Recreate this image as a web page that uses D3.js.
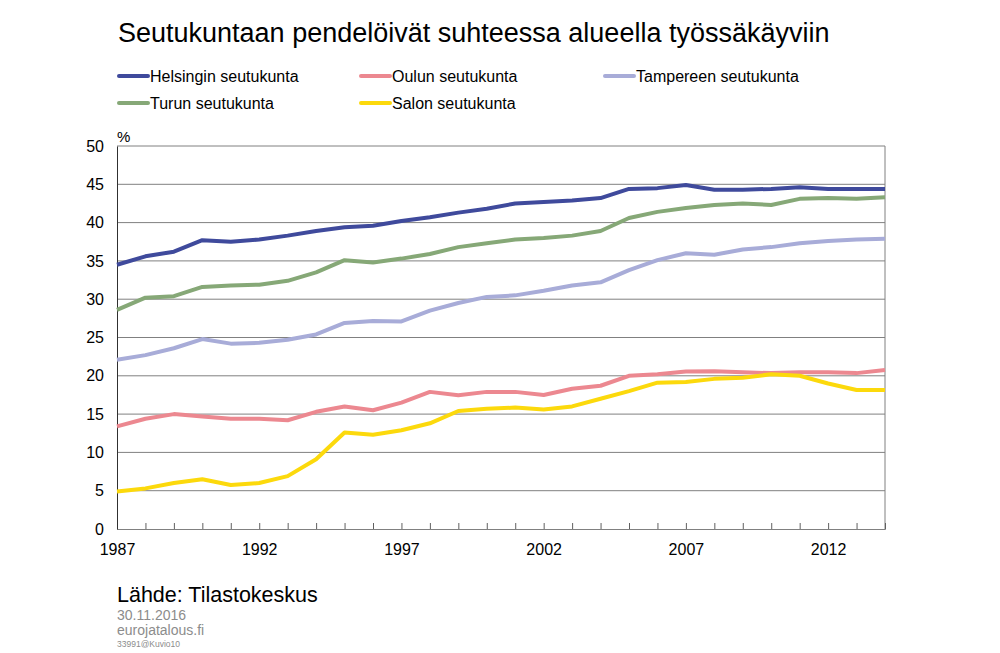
<!DOCTYPE html>
<html><head><meta charset="utf-8">
<script src="https://cdn.jsdelivr.net/npm/d3@7"></script>
<style>body{margin:0;background:#fff;} svg{display:block;font-family:"Liberation Sans",Arial,sans-serif;}</style>
</head><body><svg id="c" width="1000" height="653"></svg>
<script>
const years = d3.range(1987, 2015);
const helsinki = [34.5,35.6,36.2,37.7,37.5,37.8,38.3,38.9,39.4,39.6,40.2,40.7,41.3,41.8,42.5,42.7,42.9,43.2,44.4,44.5,44.9,44.3,44.3,44.4,44.6,44.4,44.4,44.4];
const oulu = [13.4,14.4,15.0,14.7,14.4,14.4,14.2,15.3,16.0,15.5,16.5,17.9,17.45,17.9,17.9,17.5,18.3,18.7,20.0,20.2,20.55,20.6,20.45,20.35,20.45,20.45,20.35,20.75];
const tampere = [22.1,22.7,23.6,24.8,24.2,24.3,24.7,25.4,26.9,27.15,27.1,28.5,29.5,30.3,30.5,31.1,31.8,32.2,33.8,35.1,36.0,35.8,36.5,36.8,37.3,37.6,37.8,37.9];
const turku = [28.6,30.2,30.4,31.6,31.8,31.9,32.4,33.5,35.1,34.8,35.3,35.9,36.8,37.3,37.8,38.0,38.3,38.9,40.6,41.4,41.9,42.3,42.5,42.3,43.1,43.2,43.1,43.3];
const salo = [4.9,5.3,6.0,6.5,5.75,6.0,6.9,9.1,12.6,12.3,12.9,13.8,15.4,15.7,15.85,15.6,16.0,17.0,18.0,19.1,19.2,19.6,19.75,20.2,20.0,19.0,18.15,18.15];
const seriesNames = ["Helsingin seutukunta","Oulun seutukunta","Tampereen seutukunta","Turun seutukunta","Salon seutukunta"];
const seriesValues = [helsinki, oulu, tampere, turku, salo];
const colors = ["#3f4a9c","#ec8890","#a8acd8","#86a877","#fcd90c"];
const yTicks = [0,5,10,15,20,25,30,35,40,45,50];
const xLabelYears = [1987,1992,1997,2002,2007,2012];

const svg = d3.select("#c");
const L=117, R=885, T=146, B=529;
const x = d3.scaleLinear().domain([1987,2014]).range([L,R]);
const y = d3.scaleLinear().domain([0,50]).range([B,T]);
const FF = "'Liberation Sans',Arial,sans-serif";

// title
svg.append("text").attr("x",118).attr("y",42).attr("font-size",27).attr("fill","#000")
  .text("Seutukuntaan pendelöivät suhteessa alueella työssäkäyviin");

// legend
const legPos = [[118,76],[360,76],[604,76],[118,103],[360,103]];
seriesNames.forEach((n,i)=>{
  const [lx,ly]=legPos[i];
  svg.append("line").attr("x1",lx+1).attr("x2",lx+30).attr("y1",ly).attr("y2",ly)
    .attr("stroke",colors[i]).attr("stroke-width",4).attr("stroke-linecap","round");
  svg.append("text").attr("x",lx+32).attr("y",ly+6).attr("font-size",16).attr("fill","#000").text(n);
});

// grid
const g = svg.append("g");
g.selectAll("line.grid").data(yTicks.filter(d=>d>0)).join("line")
  .attr("x1",L).attr("x2",R).attr("y1",d=>y(d)).attr("y2",d=>y(d))
  .attr("stroke","#808080").attr("stroke-width",1);
g.append("line").attr("x1",R).attr("x2",R).attr("y1",T).attr("y2",B).attr("stroke","#808080");

// x axis
const xAxis = d3.axisBottom(x).tickValues(years).tickSize(-6).tickFormat(d=> xLabelYears.includes(d)? d : "").tickPadding(15);
const xa = svg.append("g").attr("transform",`translate(0,${B})`).call(xAxis);
xa.select(".domain").attr("stroke","#808080");
xa.selectAll(".tick line").attr("stroke","#606060");
xa.selectAll("text").attr("font-size",16).attr("fill","#000").attr("font-family",FF);

// y axis
const yAxis = d3.axisLeft(y).tickValues(yTicks).tickSize(0).tickPadding(13);
const ya = svg.append("g").attr("transform",`translate(${L},0)`).call(yAxis);
ya.select(".domain").attr("stroke","#303030");
ya.selectAll("text").attr("font-size",16).attr("fill","#000").attr("font-family",FF);

svg.append("text").attr("x",117).attr("y",142).attr("font-size",15).text("%");

// lines
const line = d3.line().x((d,i)=>x(years[i])).y(d=>y(d));
seriesValues.forEach((vals,i)=>{
  svg.append("path").attr("d",line(vals)).attr("fill","none")
    .attr("stroke",colors[i]).attr("stroke-width",4).attr("stroke-linejoin","round");
});

// footer
svg.append("text").attr("x",117).attr("y",602).attr("font-size",21.5).attr("fill","#000").text("Lähde: Tilastokeskus");
svg.append("text").attr("x",117).attr("y",620).attr("font-size",14).attr("fill","#8c8c8c").text("30.11.2016");
svg.append("text").attr("x",117).attr("y",635).attr("font-size",14).attr("fill","#8c8c8c").text("eurojatalous.fi");
svg.append("text").attr("x",117).attr("y",647).attr("font-size",8.5).attr("fill","#8c8c8c").text("33991@Kuvio10");
</script></body></html>
